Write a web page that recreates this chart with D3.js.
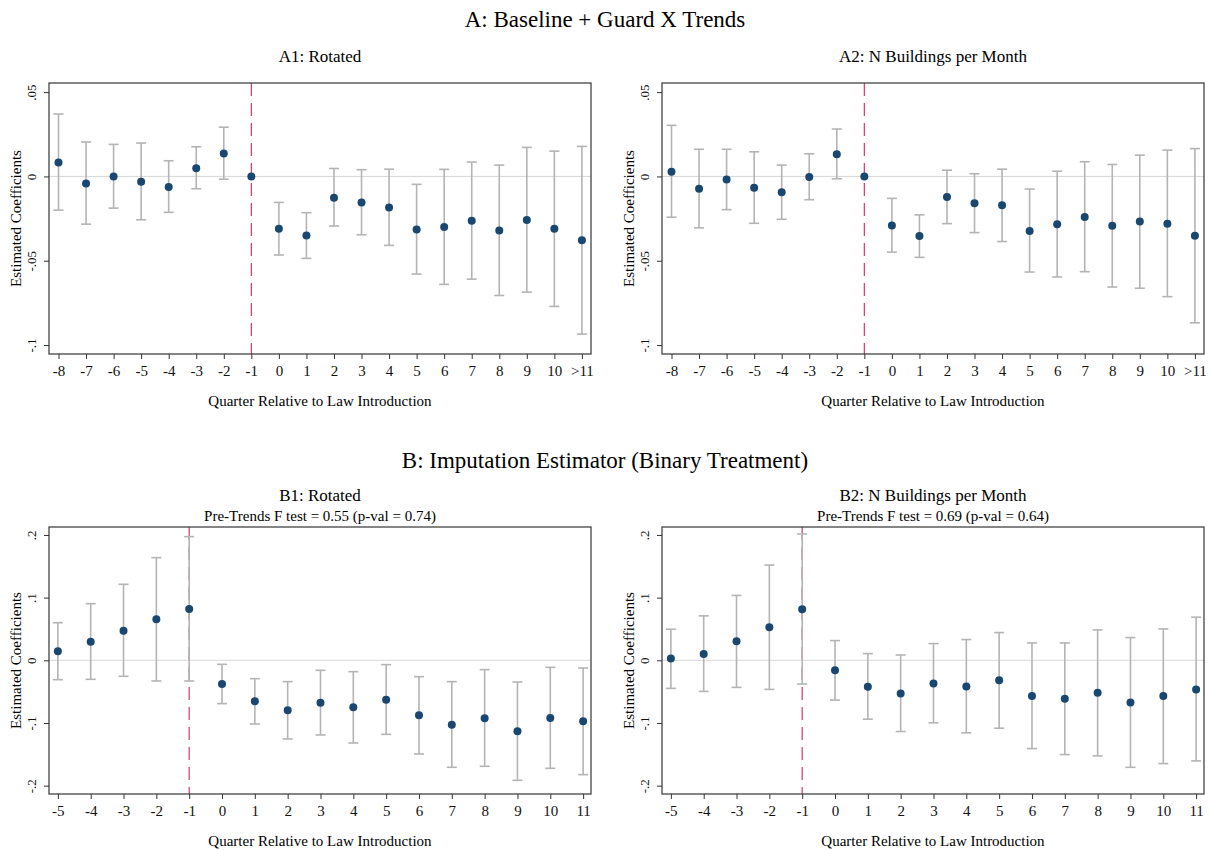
<!DOCTYPE html>
<html>
<head>
<meta charset="utf-8">
<script src="https://cdn.jsdelivr.net/npm/d3@7"></script>
<style>
  body { margin: 0; background: #fff; }
  svg { font-family: "Liberation Serif", "Times New Roman", serif; }
</style>
</head>
<body>
<svg width="1209" height="850"></svg>
<script>
// quarters
const quartersA = ["-8","-7","-6","-5","-4","-3","-2","-1","0","1","2","3","4","5","6","7","8","9","10",">11"];
const quartersB = ["-5","-4","-3","-2","-1","0","1","2","3","4","5","6","7","8","9","10","11"];

// A1: Rotated
const a1Est = [0.0083,-0.0042,0.0000,-0.0032,-0.0063,0.0049,0.0136,0.0000,-0.0310,-0.0350,-0.0126,-0.0154,-0.0184,-0.0314,-0.0300,-0.0263,-0.0320,-0.0259,-0.0310,-0.0379];
const a1Lo  = [-0.0200,-0.0283,-0.0188,-0.0257,-0.0213,-0.0073,-0.0016,null,-0.0466,-0.0486,-0.0294,-0.0346,-0.0409,-0.0579,-0.0640,-0.0609,-0.0706,-0.0686,-0.0771,-0.0935];
const a1Hi  = [0.0370,0.0204,0.0190,0.0198,0.0093,0.0176,0.0292,null,-0.0154,-0.0215,0.0047,0.0040,0.0043,-0.0047,0.0042,0.0085,0.0067,0.0172,0.0150,0.0178];

// A2: N Buildings per Month
const a2Est = [0.0028,-0.0073,-0.0018,-0.0067,-0.0094,-0.0004,0.0132,0.0000,-0.0291,-0.0354,-0.0122,-0.0159,-0.0171,-0.0323,-0.0283,-0.0240,-0.0293,-0.0268,-0.0280,-0.0352];
const a2Lo  = [-0.0242,-0.0305,-0.0197,-0.0278,-0.0254,-0.0138,-0.0014,null,-0.0449,-0.0480,-0.0280,-0.0333,-0.0386,-0.0567,-0.0596,-0.0565,-0.0656,-0.0663,-0.0713,-0.0868];
const a2Hi  = [0.0303,0.0161,0.0161,0.0146,0.0067,0.0134,0.0281,null,-0.0130,-0.0228,0.0037,0.0016,0.0043,-0.0075,0.0031,0.0087,0.0071,0.0126,0.0156,0.0165];

// B1: Rotated
const b1Est = [0.0144,0.0298,0.0473,0.0654,0.0819,-0.0378,-0.0654,-0.0798,-0.0676,-0.0750,-0.0628,-0.0878,-0.1027,-0.0926,-0.1133,-0.0920,-0.0973];
const b1Lo  = [-0.0309,-0.0303,-0.0255,-0.0330,-0.0330,-0.0691,-0.1016,-0.1255,-0.1191,-0.1319,-0.1181,-0.1495,-0.1707,-0.1691,-0.1915,-0.1723,-0.1824];
const b1Hi  = [0.0600,0.0904,0.1213,0.1638,0.1973,-0.0064,-0.0293,-0.0340,-0.0160,-0.0181,-0.0069,-0.0261,-0.0340,-0.0149,-0.0346,-0.0112,-0.0122];

// B2: N Buildings per Month
const b2Est = [0.0027,0.0101,0.0304,0.0528,0.0816,-0.0160,-0.0421,-0.0528,-0.0368,-0.0416,-0.0320,-0.0571,-0.0613,-0.0517,-0.0672,-0.0571,-0.0464];
const b2Lo  = [-0.0448,-0.0496,-0.0432,-0.0464,-0.0379,-0.0635,-0.0939,-0.1136,-0.0997,-0.1157,-0.1083,-0.1408,-0.1504,-0.1525,-0.1707,-0.1648,-0.1605];
const b2Hi  = [0.0496,0.0709,0.1035,0.1520,0.2016,0.0315,0.0107,0.0085,0.0267,0.0331,0.0443,0.0277,0.0277,0.0485,0.0363,0.0501,0.0688];

const ticksA = [0.05, 0, -0.05, -0.1];
const ticksB = [0.2, 0.1, 0, -0.1, -0.2];
const tickLabelsA = [".05", "0", "-.05", "-.1"];
const tickLabelsB = [".2", ".1", "0", "-.1", "-.2"];

const svg = d3.select("svg");
const navy = "#1a476f";
const ciGray = "#b4b4b4";
const redLine = "#d2386a";

// section titles
svg.append("text").attr("x", 605).attr("y", 27).attr("text-anchor", "middle")
  .style("font-size", "23px").text("A: Baseline + Guard X Trends");
svg.append("text").attr("x", 605).attr("y", 468).attr("text-anchor", "middle")
  .style("font-size", "23px").text("B: Imputation Estimator (Binary Treatment)");

function drawPanel(opt) {
  const { left, right, top, bottom, cats, est, lo, hi, yDomain, yTicks, yLabels, title, note, xPad } = opt;
  const g = svg.append("g");
  const n = cats.length;

  const x = d3.scaleLinear().domain([-xPad[0], n - 1 + xPad[1]]).range([left, right]);
  const y = d3.scaleLinear().domain(yDomain).range([bottom, top]);

  // titles
  g.append("text").attr("x", (left + right) / 2).attr("y", note ? top - 26 : top - 21)
    .attr("text-anchor", "middle").style("font-size", "17px").text(title);
  if (note) {
    g.append("text").attr("x", (left + right) / 2).attr("y", top - 6)
      .attr("text-anchor", "middle").style("font-size", "15px").text(note);
  }

  // zero line
  g.append("line").attr("x1", left).attr("x2", right)
    .attr("y1", y(0)).attr("y2", y(0))
    .attr("stroke", "#d8d8d8").attr("stroke-width", 1);

  // vertical dashed line at -1
  const idxRef = cats.indexOf("-1");
  g.append("line").attr("x1", x(idxRef)).attr("x2", x(idxRef))
    .attr("y1", top).attr("y2", bottom)
    .attr("stroke", redLine).attr("stroke-width", 1.2)
    .attr("stroke-dasharray", "13,7");

  // confidence intervals
  const rows = cats.map((c, i) => ({ i, est: est[i], lo: lo[i], hi: hi[i] }));
  const ci = g.append("g").attr("stroke", ciGray).attr("stroke-width", 1.6)
    .selectAll("g").data(rows.filter(d => d.lo !== null)).enter().append("g");
  ci.append("line").attr("x1", d => x(d.i)).attr("x2", d => x(d.i))
    .attr("y1", d => y(d.lo)).attr("y2", d => y(d.hi));
  ci.append("line").attr("x1", d => x(d.i) - 5).attr("x2", d => x(d.i) + 5)
    .attr("y1", d => y(d.lo)).attr("y2", d => y(d.lo));
  ci.append("line").attr("x1", d => x(d.i) - 5).attr("x2", d => x(d.i) + 5)
    .attr("y1", d => y(d.hi)).attr("y2", d => y(d.hi));

  // points
  g.append("g").selectAll("circle").data(rows).enter().append("circle")
    .attr("cx", d => x(d.i)).attr("cy", d => y(d.est)).attr("r", 4)
    .attr("fill", navy);

  // frame
  g.append("rect").attr("x", left).attr("y", top)
    .attr("width", right - left).attr("height", bottom - top)
    .attr("fill", "none").attr("stroke", "#444").attr("stroke-width", 1.3);

  // x axis
  const xAxis = d3.axisBottom(x).tickValues(d3.range(n)).tickFormat(i => cats[i])
    .tickSizeOuter(0).tickSize(5).tickPadding(6);
  const gx = g.append("g").attr("transform", `translate(0,${bottom})`).call(xAxis);
  gx.select(".domain").remove();
  gx.selectAll("line").attr("stroke", "#333");
  gx.selectAll("text").style("font-size", "15px").attr("fill", "#111")
    .style("font-family", "Liberation Serif, serif");

  // y axis, rotated labels
  const yAxis = d3.axisLeft(y).tickValues(yTicks).tickFormat((d, i) => yLabels[i])
    .tickSizeOuter(0).tickSize(5);
  const gy = g.append("g").attr("transform", `translate(${left},0)`).call(yAxis);
  gy.select(".domain").remove();
  gy.selectAll("line").attr("stroke", "#333");
  gy.selectAll("text")
    .attr("x", 0).attr("dy", null)
    .attr("text-anchor", "middle")
    .attr("transform", "translate(-13,0) rotate(-90)")
    .attr("y", 0)
    .style("font-size", "13px").attr("fill", "#111")
    .style("font-family", "Liberation Serif, serif");

  // axis titles
  g.append("text").attr("x", (left + right) / 2).attr("y", bottom + 52)
    .attr("text-anchor", "middle").style("font-size", "15px")
    .text("Quarter Relative to Law Introduction");
  g.append("text")
    .attr("transform", `translate(${left - 28},${(top + bottom) / 2}) rotate(-90)`)
    .attr("text-anchor", "middle").style("font-size", "15px")
    .text("Estimated Coefficients");
}

const domA = [-0.1053, 0.0554];
const domB = [-0.2133, 0.2127];

drawPanel({ left: 49, right: 591, top: 83, bottom: 354, cats: quartersA, est: a1Est, lo: a1Lo, hi: a1Hi,
  yDomain: domA, yTicks: ticksA, yLabels: tickLabelsA, title: "A1: Rotated", xPad: [0.345, 0.33] });
drawPanel({ left: 662, right: 1204, top: 83, bottom: 354, cats: quartersA, est: a2Est, lo: a2Lo, hi: a2Hi,
  yDomain: domA, yTicks: ticksA, yLabels: tickLabelsA, title: "A2: N Buildings per Month", xPad: [0.345, 0.33] });
drawPanel({ left: 49, right: 591, top: 527, bottom: 794, cats: quartersB, est: b1Est, lo: b1Lo, hi: b1Hi,
  yDomain: domB, yTicks: ticksB, yLabels: tickLabelsB, title: "B1: Rotated",
  note: "Pre-Trends F test = 0.55 (p-val = 0.74)", xPad: [0.27, 0.24] });
drawPanel({ left: 662, right: 1204, top: 527, bottom: 794, cats: quartersB, est: b2Est, lo: b2Lo, hi: b2Hi,
  yDomain: domB, yTicks: ticksB, yLabels: tickLabelsB, title: "B2: N Buildings per Month",
  note: "Pre-Trends F test = 0.69 (p-val = 0.64)", xPad: [0.27, 0.24] });
</script>
</body>
</html>
